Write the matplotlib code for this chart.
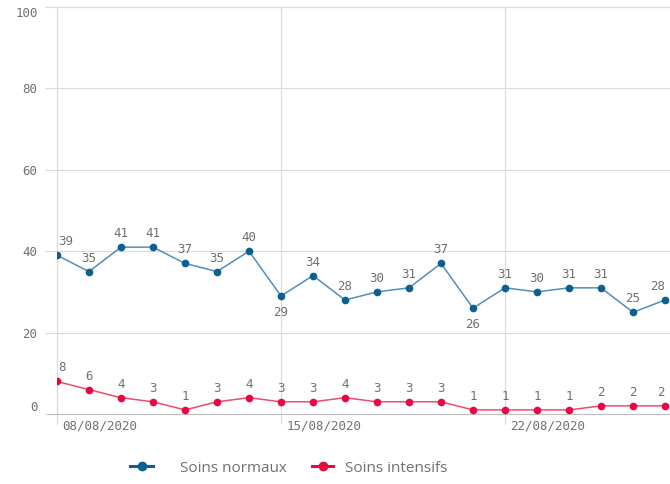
import numpy as np
import matplotlib.pyplot as plt
from matplotlib.lines import Line2D

dates = ["08/08/2020", "09/08/2020", "10/08/2020", "11/08/2020", "12/08/2020",
         "13/08/2020", "14/08/2020", "15/08/2020", "16/08/2020", "17/08/2020",
         "18/08/2020", "19/08/2020", "20/08/2020", "21/08/2020", "22/08/2020",
         "23/08/2020", "24/08/2020", "25/08/2020", "26/08/2020", "27/08/2020"]
normaux = [39, 35, 41, 41, 37, 35, 40, 29, 34, 28, 30, 31, 37, 26, 31, 30, 31, 31, 25, 28]
intensifs = [8, 6, 4, 3, 1, 3, 4, 3, 3, 4, 3, 3, 3, 1, 1, 1, 1, 2, 2, 2]
tick_dates = ["08/08/2020", "15/08/2020", "22/08/2020"]
yticks = [0, 20, 40, 60, 80, 100]
below = {7, 13}  # labels drawn under the point

blue_line = "#4f8fb8"
blue_dot = "#0d5f92"
red_line = "#ec4d6c"
red_dot = "#e5093f"
grey = "#707070"
grid = "#d9d9d9"
mono = "DejaVu Sans Mono"
fs = 9

x = np.arange(len(dates))
n = len(dates)

fig = plt.figure(figsize=(6.7, 4.84), dpi=100)
ax = fig.add_axes([57 / 670, 1 - 414 / 484, 1 - 57 / 670, (414 - 7) / 484])

ax.plot(x, normaux, color=blue_line, lw=1.1, zorder=3)
ax.plot(x, normaux, "o", color=blue_dot, ms=4.5, zorder=4)
ax.plot(x, intensifs, color=red_line, lw=1.1, zorder=3)
ax.plot(x, intensifs, "o", color=red_dot, ms=4.5, zorder=4)


def label(i, v, under=False):
    ha = "center"
    dx = 0
    if i == 0:
        ha, dx = "left", 1
    elif i == n - 1:
        ha, dx = "right", 0
    if under:
        ax.annotate(str(v), (i, v), xytext=(dx, -7), textcoords="offset points",
                    ha=ha, va="top", fontsize=fs, color=grey, family=mono)
    else:
        ax.annotate(str(v), (i, v), xytext=(dx, 5), textcoords="offset points",
                    ha=ha, va="bottom", fontsize=fs, color=grey, family=mono)


for i, v in enumerate(normaux):
    label(i, v, i in below)
for i, v in enumerate(intensifs):
    label(i, v)

ax.set_xlim(0, n - 1 + 5 / 32)
ax.set_ylim(0, 100)

ax.set_yticks(yticks)
ax.set_yticklabels([str(t) for t in yticks], family=mono, fontsize=fs, color=grey)
ylabels = ax.get_yticklabels()
ylabels[0].set_va("bottom")
ylabels[-1].set_va("top")
ax.tick_params(axis="y", length=9, color=grid, width=0.8, pad=5)

# date labels drawn by hand, left-aligned just right of the tick
xt = [dates.index(d) for d in tick_dates]
ax.set_xticks(xt)
ax.set_xticklabels([])
ax.tick_params(axis="x", length=7, color=grid, width=0.8)
for d in tick_dates:
    ax.annotate(d, (dates.index(d), 0), xycoords=("data", "axes fraction"),
                xytext=(4, -4), textcoords="offset points", ha="left", va="top",
                fontsize=fs, color=grey, family=mono)

ax.grid(True, color=grid, lw=0.8, zorder=0)
for side in ["top", "right"]:
    ax.spines[side].set_visible(False)
ax.spines["left"].set_color(grid)
ax.spines["bottom"].set_color("#bfbfbf")
ax.spines["bottom"].set_bounds(-9 / 32, n - 1 + 5 / 32)
ax.spines["bottom"].set_clip_on(False)
ax.axhline(100, color=grid, lw=0.8, zorder=0)

# legend drawn in figure pixels
W, H = 670, 484
ly = 1 - 466 / H
entries = [("Soins normaux", blue_dot, 130, 153, 180), ("Soins intensifs", red_dot, 312, 333, 345)]
for text, col, x0, x1, tx in entries:
    fig.add_artist(Line2D([x0 / W, x1 / W], [ly, ly], color=col, lw=2.2))
    fig.add_artist(Line2D([(x0 + x1) / 2 / W], [ly], color=col, marker="o", ms=6, lw=0))
    fig.text(tx / W, 1 - 469 / H, text, ha="left", va="center", fontsize=11,
             family="Open Sans", color=grey)

fig.savefig("out.png", dpi=100)
